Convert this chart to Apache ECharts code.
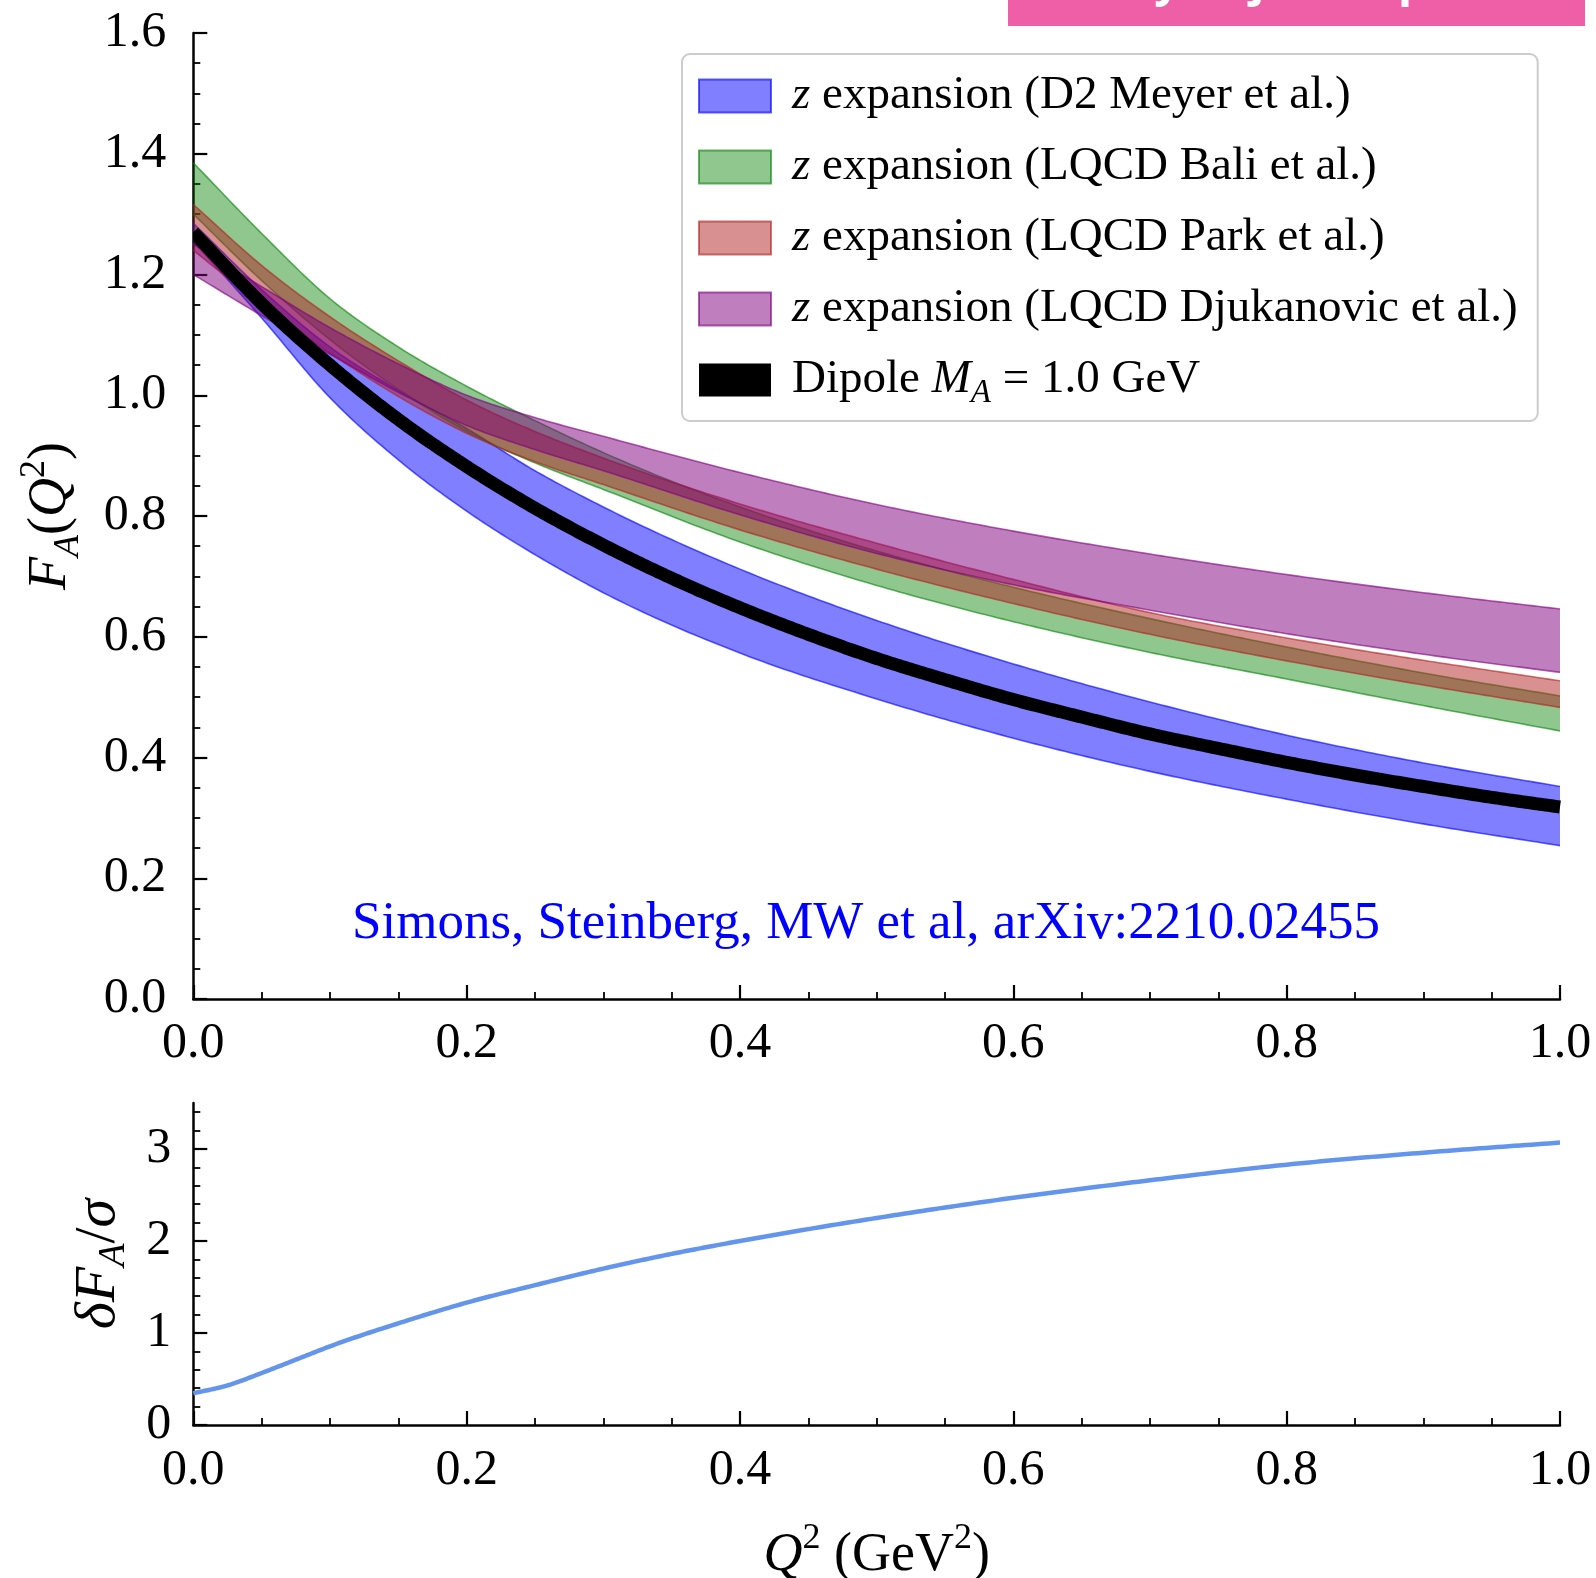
<!DOCTYPE html>
<html><head><meta charset="utf-8">
<script src="https://cdn.jsdelivr.net/npm/echarts@6/dist/echarts.min.js"></script>
<style>html,body{margin:0;padding:0;background:#fff}#c{width:1596px;height:1578px}</style>
</head><body><div id="c"></div>
<script>
// ---------- data ----------
const Q = [0, 0.05, 0.1, 0.15, 0.2, 0.25, 0.3, 0.4, 0.5, 0.6, 0.7, 0.8, 0.9, 1.0];
const meyerLower = [1.255, 1.128, 0.996, 0.893, 0.808, 0.736, 0.673, 0.573, 0.497, 0.432, 0.377, 0.331, 0.290, 0.254];
const meyerUpper = [1.285, 1.175, 1.080, 1.008, 0.945, 0.875, 0.815, 0.712, 0.627, 0.555, 0.492, 0.437, 0.391, 0.352];
const baliLower  = [1.300, 1.190, 1.092, 1.010, 0.940, 0.888, 0.844, 0.757, 0.685, 0.625, 0.574, 0.530, 0.486, 0.444];
const baliUpper  = [1.385, 1.268, 1.160, 1.080, 1.015, 0.958, 0.905, 0.815, 0.742, 0.682, 0.630, 0.583, 0.540, 0.502];
const parkLower  = [1.240, 1.150, 1.070, 0.998, 0.937, 0.890, 0.852, 0.777, 0.712, 0.655, 0.604, 0.560, 0.520, 0.483];
const parkUpper  = [1.316, 1.215, 1.130, 1.057, 0.992, 0.940, 0.896, 0.820, 0.755, 0.695, 0.640, 0.598, 0.561, 0.527];
const djukLower  = [1.200, 1.132, 1.068, 1.005, 0.950, 0.910, 0.875, 0.802, 0.738, 0.686, 0.644, 0.605, 0.571, 0.541];
const djukUpper  = [1.250, 1.180, 1.112, 1.052, 1.000, 0.963, 0.932, 0.872, 0.819, 0.775, 0.737, 0.703, 0.673, 0.646];

const dipoleQ = [0, 0.05, 0.1, 0.15, 0.2, 0.25, 0.3, 0.35, 0.4, 0.45, 0.5, 0.55, 0.6, 0.65, 0.7, 0.75, 0.8, 0.85, 0.9, 0.95, 1.0];
const dipoleVal = [1.270, 1.152, 1.050, 0.960, 0.882, 0.813, 0.752, 0.697, 0.648, 0.604, 0.564, 0.529, 0.496, 0.467, 0.439, 0.415, 0.392, 0.371, 0.352, 0.334, 0.318];

const sigmaQ = [0, 0.025, 0.05, 0.075, 0.1, 0.15, 0.2, 0.25, 0.3, 0.35, 0.4, 0.5, 0.6, 0.7, 0.8, 0.9, 1.0];
const sigmaVal = [0.345, 0.43, 0.565, 0.71, 0.855, 1.105, 1.33, 1.52, 1.70, 1.86, 2.00, 2.25, 2.47, 2.66, 2.83, 2.96, 3.07];

const botYTicks = [0, 1, 2, 3];
const botYMinor = [0.2, 0.4, 0.6, 0.8, 1.2, 1.4, 1.6, 1.8, 2.2, 2.4, 2.6, 2.8, 3.2, 3.4];

// ---------- helpers ----------
const FONT = 'Liberation Serif';
// smooth (cubic Hermite in pixel x) through pixel points obtained from the axes
function smoothPts(P) {
  const n = P.length, m = new Array(n);
  for (let i = 0; i < n; i++) {
    if (i === 0) m[i] = (P[1][1] - P[0][1]) / (P[1][0] - P[0][0]);
    else if (i === n - 1) m[i] = (P[n-1][1] - P[n-2][1]) / (P[n-1][0] - P[n-2][0]);
    else {
      const h0 = P[i][0] - P[i-1][0], h1 = P[i+1][0] - P[i][0];
      const d0 = (P[i][1] - P[i-1][1]) / h0, d1 = (P[i+1][1] - P[i][1]) / h1;
      m[i] = (d0 * h1 + d1 * h0) / (h0 + h1);
    }
  }
  const out = [];
  for (let i = 0; i < n - 1; i++) {
    const x0 = P[i][0], x1 = P[i+1][0], y0 = P[i][1], y1 = P[i+1][1], h = x1 - x0;
    const steps = 24;
    for (let s = 0; s < steps; s++) {
      const t = s / steps, t2 = t * t, t3 = t2 * t;
      const y = (2*t3 - 3*t2 + 1) * y0 + (t3 - 2*t2 + t) * h * m[i] + (-2*t3 + 3*t2) * y1 + (t3 - t2) * h * m[i+1];
      out.push([x0 + t * h, y]);
    }
  }
  out.push(P[n-1].slice());
  return out;
}

const bands = [
  {key: 'meyer', lo: meyerLower, hi: meyerUpper, fill: 'rgba(0,0,255,0.5)', edge: 'rgba(0,0,255,0.62)',
   label: '{it|z} expansion (D2 Meyer et al.)'},
  {key: 'bali', lo: baliLower, hi: baliUpper, fill: 'rgba(0,128,0,0.44)', edge: 'rgba(0,128,0,0.6)',
   label: '{it|z} expansion (LQCD Bali et al.)'},
  {key: 'park', lo: parkLower, hi: parkUpper, fill: 'rgba(178,34,34,0.5)', edge: 'rgba(178,34,34,0.62)',
   label: '{it|z} expansion (LQCD Park et al.)'},
  {key: 'djuk', lo: djukLower, hi: djukUpper, fill: 'rgba(128,0,128,0.5)', edge: 'rgba(128,0,128,0.62)',
   label: '{it|z} expansion (LQCD Djukanovic et al.)'}
];
const labels = {dipole: 'Dipole {it|M}{sub|A} = 1.0 GeV'};
bands.forEach(b => labels[b.key] = b.label);

const series = [];
bands.forEach(b => {
  series.push({
    name: b.key, type: 'custom', xAxisIndex: 0, yAxisIndex: 0, clip: true, silent: true,
    data: Q.map((q, i) => [q, b.lo[i], b.hi[i]]),
    encode: {x: 0, y: [1, 2]},
    itemStyle: {color: b.fill},
    renderItem: function (params, api) {
      if (params.dataIndex !== 0) return null;
      const up = smoothPts(Q.map((q, i) => api.coord([q, b.hi[i]])));
      const dn = smoothPts(Q.map((q, i) => api.coord([q, b.lo[i]])));
      return {
        type: 'group',
        children: [
          {type: 'polygon', shape: {points: up.concat(dn.slice().reverse())}, style: {fill: b.fill, stroke: null}},
          {type: 'polyline', shape: {points: up}, style: {stroke: b.edge, lineWidth: 1.6, fill: null}},
          {type: 'polyline', shape: {points: dn}, style: {stroke: b.edge, lineWidth: 1.6, fill: null}}
        ]
      };
    }
  });
});
function curveSeries(name, xs, ys, xi, yi, color, width) {
  return {
    name: name, type: 'custom', xAxisIndex: xi, yAxisIndex: yi, clip: true, silent: true,
    data: xs.map((q, i) => [q, ys[i]]), encode: {x: 0, y: 1},
    itemStyle: {color: color},
    renderItem: function (params, api) {
      if (params.dataIndex !== 0) return null;
      const pts = smoothPts(xs.map((q, i) => api.coord([q, ys[i]])));
      return {type: 'polyline', shape: {points: pts},
              style: {stroke: color, lineWidth: width, fill: null, lineCap: 'butt', lineJoin: 'round'}};
    }
  };
}
series.push(curveSeries('dipole', dipoleQ, dipoleVal, 0, 0, '#000', 13));
series.push(curveSeries('sigma', sigmaQ, sigmaVal, 1, 1, '#6495ED', 4.5));

const axisLine = {show: true, onZero: false, lineStyle: {color: '#000', width: 2.5}};
const tickCommon = {show: true, inside: true, length: 14, lineStyle: {color: '#000', width: 2.2}};
const minorCommon = {show: true, splitNumber: 4, length: 7, lineStyle: {color: '#000', width: 1.8}};
const labelCommon = {color: '#000', fontFamily: FONT, fontSize: 50};

const nameRich = {
  it: {fontStyle: 'italic', fontFamily: FONT, fontSize: 54, lineHeight: 70, color: '#000'},
  sub: {fontStyle: 'italic', fontFamily: FONT, fontSize: 36, lineHeight: 34, verticalAlign: 'bottom', color: '#000'},
  sup: {fontFamily: FONT, fontSize: 36, lineHeight: 40, verticalAlign: 'top', color: '#000'}
};
const nameStyle = {color: '#000', fontFamily: FONT, fontSize: 54, lineHeight: 70, rich: nameRich};
const nameRich2 = {
  it: {fontStyle: 'italic', fontFamily: FONT, fontSize: 58, lineHeight: 70, color: '#000'},
  sub: {fontStyle: 'italic', fontFamily: FONT, fontSize: 38, lineHeight: 34, verticalAlign: 'bottom', color: '#000'}
};
const nameStyle2 = {color: '#000', fontFamily: FONT, fontSize: 58, lineHeight: 70, rich: nameRich2};

const option = {
  backgroundColor: '#fff',
  animation: false,
  grid: [
    {left: 193.3, top: 33, width: 1366.7, height: 966, outerBoundsMode: 'none', containLabel: false},
    {left: 193.3, top: 1103, width: 1366.7, height: 322, outerBoundsMode: 'none', containLabel: false}
  ],
  xAxis: [
    {type: 'value', gridIndex: 0, min: 0, max: 1, interval: 0.2,
     axisLine: axisLine, axisTick: tickCommon, minorTick: minorCommon, splitLine: {show: false},
     axisLabel: Object.assign({margin: 20, formatter: v => v.toFixed(1)}, labelCommon)},
    {type: 'value', gridIndex: 1, min: 0, max: 1, interval: 0.2,
     axisLine: axisLine, axisTick: tickCommon, minorTick: minorCommon, splitLine: {show: false},
     axisLabel: Object.assign({margin: 21, formatter: v => v.toFixed(1)}, labelCommon),
     name: '{it|Q}{sup|2} (GeV{sup|2})', nameLocation: 'middle', nameGap: 96, nameTextStyle: nameStyle}
  ],
  yAxis: [
    {type: 'value', gridIndex: 0, min: 0, max: 1.6, interval: 0.2,
     axisLine: axisLine, axisTick: tickCommon, minorTick: minorCommon, splitLine: {show: false},
     axisLabel: Object.assign({margin: 27, formatter: v => v.toFixed(1)}, labelCommon),
     name: '{it|F}{sub|A}({it|Q}{sup|2})', nameLocation: 'middle', nameRotate: 90, nameGap: 107,
     nameTextStyle: nameStyle},
    {type: 'value', gridIndex: 1, min: 0, max: 3.5,
     axisLine: axisLine,
     axisTick: Object.assign({}, tickCommon, {customValues: botYTicks}),
     minorTick: {show: false}, splitLine: {show: false},
     axisLabel: Object.assign({margin: 22, customValues: botYTicks}, labelCommon),
     name: '{it|δF}{sub|A}/{it|σ}', nameLocation: 'middle', nameRotate: 90, nameGap: 60,
     nameTextStyle: nameStyle2},
    {type: 'value', gridIndex: 1, min: 0, max: 3.5, position: 'left',
     axisLine: {show: false},
     axisTick: {show: true, inside: true, length: 7, lineStyle: {color: '#000', width: 1.8}, customValues: botYMinor},
     axisLabel: {show: false}, splitLine: {show: false}}
  ],
  legend: {
    data: bands.map(b => ({name: b.key, itemStyle: {color: b.fill, borderColor: b.edge, borderWidth: 2}}))
      .concat([{name: 'dipole', itemStyle: {color: '#000', borderWidth: 0}}]),
    orient: 'vertical', left: 682, top: 54,
    itemWidth: 72, itemHeight: 33, itemGap: 11, icon: 'rect',
    backgroundColor: '#fff', borderColor: '#cccccc', borderWidth: 2, borderRadius: 8,
    padding: [12, 20, 11, 16], selectedMode: false,
    formatter: name => '{g| }' + labels[name],
    textStyle: {
      color: '#000', fontFamily: FONT, fontSize: 47, lineHeight: 60,
      rich: {
        g: {width: 16, fontSize: 47, lineHeight: 60},
        it: {fontStyle: 'italic', fontFamily: FONT, fontSize: 47, lineHeight: 60, color: '#000'},
        sub: {fontStyle: 'italic', fontFamily: FONT, fontSize: 33, lineHeight: 30, verticalAlign: 'bottom', color: '#000'}
      }
    }
  },
  graphic: [
    {type: 'rect', left: 1008, top: 0, shape: {width: 577, height: 26}, style: {fill: '#EF5FA7'}, z: 100},
    {type: 'text', x: 1300, y: 6, z: 101,
     style: {text: 'by Rajan Gupta', fill: '#fff', font: 'bold 46px "Open Sans"', align: 'center', verticalAlign: 'bottom'}},
    {type: 'text', x: 866, y: 924, z: 50,
     style: {text: 'Simons, Steinberg, MW et al, arXiv:2210.02455', fill: '#0000FF',
             font: '53px "Liberation Serif"', align: 'center', verticalAlign: 'middle'}}
  ],
  series: series
};

const chart = echarts.init(document.getElementById('c'), null, {renderer: 'canvas'});
chart.setOption(option);
</script>
</body></html>
